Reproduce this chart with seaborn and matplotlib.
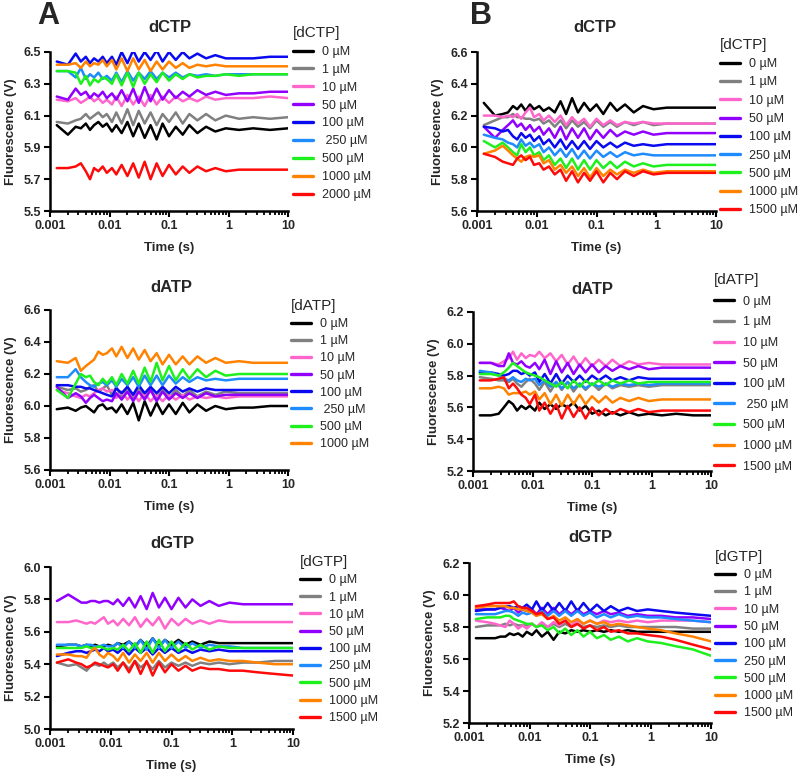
import numpy as np
import pandas as pd
import seaborn as sns
import matplotlib.pyplot as plt
from matplotlib.lines import Line2D
from matplotlib.ticker import FixedLocator, FixedFormatter, LogLocator, NullFormatter

sns.set_theme(style='ticks')
plt.rcParams['font.family'] = ['Liberation Sans', 'DejaVu Sans']

W, H = 800, 773

# sample times (s), shared by every trace
time_s = [0.0013, 0.002, 0.0027, 0.0033, 0.004, 0.0047, 0.0055, 0.0065, 0.0077, 0.009,
          0.011, 0.013, 0.016, 0.02, 0.025, 0.031, 0.039, 0.049, 0.062, 0.078,
          0.1, 0.13, 0.17, 0.22, 0.3, 0.42, 0.6, 0.9,
          1.5, 2.6, 5, 10]

# colours, lowest to highest concentration
conc_colors = ['#000000', '#808080', '#FF66CC', '#9100FF', '#0A0AF0',
               '#1E8CFF', '#1EF01E', '#FF8200', '#FF0A0A']

# ---- A: dCTP ----
a_dctp_labels = ['0 µM', '1 µM', '10 µM', '50 µM', '100 µM', ' 250 µM', '500 µM', '1000 µM', '2000 µM']
a_dctp = [
    [6.04, 5.98, 6.03, 6.02, 6.05, 6.01, 6.04, 6.06, 6.03, 6.05,
     6.00, 6.04, 5.99, 6.06, 5.97, 6.05, 5.96, 6.04, 5.95, 6.05, 5.97, 6.03, 5.98, 6.04, 5.99, 6.03, 6.00, 6.02,
     6.01, 6.02, 6.01, 6.02],
    [6.06, 6.05, 6.07, 6.08, 6.11, 6.08, 6.10, 6.12, 6.09, 6.11,
     6.06, 6.12, 6.05, 6.14, 6.04, 6.13, 6.05, 6.12, 6.04, 6.11, 6.06, 6.12, 6.05, 6.11, 6.07, 6.11, 6.07, 6.10,
     6.08, 6.09, 6.08, 6.09],
    [6.20, 6.19, 6.21, 6.18, 6.20, 6.22, 6.19, 6.21, 6.18, 6.20,
     6.17, 6.22, 6.16, 6.23, 6.17, 6.22, 6.16, 6.23, 6.17, 6.22, 6.18, 6.22, 6.19, 6.21, 6.19, 6.22, 6.20, 6.21,
     6.21, 6.21, 6.22, 6.21],
    [6.22, 6.20, 6.27, 6.23, 6.25, 6.21, 6.24, 6.22, 6.25, 6.21,
     6.24, 6.20, 6.26, 6.19, 6.27, 6.18, 6.28, 6.19, 6.27, 6.20, 6.26, 6.21, 6.25, 6.22, 6.26, 6.23, 6.25, 6.23,
     6.24, 6.24, 6.25, 6.25],
    [6.44, 6.42, 6.49, 6.44, 6.47, 6.43, 6.46, 6.44, 6.47, 6.43,
     6.47, 6.42, 6.50, 6.43, 6.51, 6.44, 6.50, 6.45, 6.51, 6.44, 6.50, 6.45, 6.50, 6.46, 6.49, 6.46, 6.48, 6.46,
     6.46, 6.46, 6.47, 6.47],
    [6.38, 6.38, 6.34, 6.40, 6.33, 6.36, 6.34, 6.37, 6.33, 6.35,
     6.32, 6.37, 6.31, 6.38, 6.32, 6.37, 6.33, 6.38, 6.33, 6.37, 6.34, 6.37, 6.34, 6.36, 6.35, 6.36, 6.35, 6.36,
     6.36, 6.36, 6.36, 6.36],
    [6.38, 6.38, 6.37, 6.30, 6.35, 6.29, 6.33, 6.31, 6.34, 6.33,
     6.30, 6.36, 6.29, 6.37, 6.28, 6.37, 6.30, 6.36, 6.31, 6.37, 6.32, 6.36, 6.33, 6.36, 6.34, 6.35, 6.35, 6.36,
     6.35, 6.36, 6.36, 6.36],
    [6.42, 6.42, 6.43, 6.40, 6.44, 6.41, 6.43, 6.42, 6.45, 6.41,
     6.45, 6.39, 6.46, 6.38, 6.46, 6.39, 6.45, 6.38, 6.44, 6.39, 6.44, 6.40, 6.43, 6.40, 6.42, 6.41, 6.42, 6.41,
     6.41, 6.41, 6.41, 6.41],
    [5.77, 5.77, 5.78, 5.80, 5.75, 5.70, 5.77, 5.75, 5.78, 5.74,
     5.77, 5.73, 5.79, 5.72, 5.80, 5.71, 5.81, 5.70, 5.80, 5.72, 5.79, 5.73, 5.78, 5.74, 5.78, 5.75, 5.77, 5.75,
     5.76, 5.76, 5.76, 5.76],
]

# ---- B: dCTP ----
b_dctp_labels = ['0 µM', '1 µM', '10 µM', '50 µM', '100 µM', '250 µM', '500 µM', '1000 µM', '1500 µM']
b_dctp = [
    [6.28, 6.20, 6.21, 6.22, 6.26, 6.24, 6.27, 6.23, 6.27, 6.24,
     6.26, 6.23, 6.25, 6.22, 6.29, 6.21, 6.31, 6.22, 6.28, 6.23, 6.27, 6.21, 6.28, 6.23, 6.27, 6.22, 6.26, 6.24,
     6.25, 6.25, 6.25, 6.25],
    [6.14, 6.17, 6.19, 6.19, 6.21, 6.19, 6.19, 6.18, 6.18, 6.17,
     6.18, 6.15, 6.17, 6.13, 6.17, 6.12, 6.17, 6.13, 6.16, 6.12, 6.17, 6.13, 6.16, 6.13, 6.16, 6.14, 6.16, 6.14,
     6.15, 6.15, 6.15, 6.15],
    [6.20, 6.20, 6.19, 6.20, 6.19, 6.21, 6.18, 6.22, 6.25, 6.19,
     6.21, 6.17, 6.20, 6.16, 6.20, 6.14, 6.19, 6.15, 6.18, 6.13, 6.18, 6.14, 6.17, 6.14, 6.16, 6.15, 6.16, 6.15,
     6.15, 6.15, 6.15, 6.15],
    [6.13, 6.06, 6.11, 6.14, 6.17, 6.13, 6.15, 6.11, 6.14, 6.10,
     6.13, 6.08, 6.12, 6.06, 6.13, 6.05, 6.12, 6.06, 6.12, 6.05, 6.11, 6.06, 6.11, 6.07, 6.10, 6.08, 6.10, 6.08,
     6.09, 6.09, 6.09, 6.09],
    [6.13, 6.12, 6.10, 6.11, 6.07, 6.05, 6.09, 6.06, 6.08, 6.04,
     6.07, 6.02, 6.05, 6.00, 6.05, 5.99, 6.04, 5.99, 6.04, 5.99, 6.04, 6.00, 6.03, 6.00, 6.03, 6.01, 6.02, 6.01,
     6.02, 6.02, 6.02, 6.02],
    [6.08, 6.06, 6.05, 6.03, 6.02, 6.00, 6.05, 6.01, 6.03, 6.00,
     6.02, 5.97, 6.00, 5.95, 5.99, 5.94, 5.99, 5.93, 5.98, 5.93, 5.98, 5.94, 5.97, 5.94, 5.97, 5.95, 5.96, 5.95,
     5.95, 5.95, 5.95, 5.95],
    [6.04, 6.00, 6.03, 6.00, 5.97, 5.95, 6.02, 5.97, 6.00, 5.95,
     5.97, 5.92, 5.95, 5.89, 5.93, 5.87, 5.93, 5.86, 5.92, 5.86, 5.92, 5.87, 5.91, 5.87, 5.91, 5.88, 5.90, 5.88,
     5.89, 5.89, 5.89, 5.89],
    [5.96, 5.98, 6.01, 5.98, 5.95, 5.93, 5.91, 5.94, 5.95, 5.94,
     5.95, 5.90, 5.92, 5.86, 5.89, 5.84, 5.88, 5.82, 5.87, 5.81, 5.87, 5.82, 5.86, 5.83, 5.86, 5.84, 5.86, 5.84,
     5.85, 5.85, 5.85, 5.85],
    [5.96, 5.94, 5.91, 5.90, 5.89, 5.93, 5.95, 5.92, 5.94, 5.89,
     5.90, 5.86, 5.88, 5.83, 5.86, 5.79, 5.85, 5.78, 5.84, 5.79, 5.85, 5.78, 5.84, 5.80, 5.85, 5.82, 5.85, 5.83,
     5.84, 5.84, 5.84, 5.84],
]

# ---- A: dATP ----
a_datp_labels = ['0 µM', '1 µM', '10 µM', '50 µM', '100 µM', ' 250 µM', '500 µM', '1000 µM']
a_datp = [
    [5.98, 5.99, 5.97, 5.99, 6.00, 5.98, 5.96, 6.00, 6.01, 5.98,
     5.99, 5.96, 6.01, 5.95, 6.02, 5.91, 6.03, 5.94, 6.02, 5.95, 6.01, 5.95, 6.02, 5.96, 6.01, 5.97, 6.00, 5.98,
     5.99, 5.99, 6.00, 6.00],
    [6.12, 6.10, 6.11, 6.09, 6.10, 6.12, 6.13, 6.09, 6.11, 6.13,
     6.07, 6.12, 6.05, 6.12, 6.04, 6.12, 6.05, 6.11, 6.04, 6.11, 6.05, 6.10, 6.06, 6.10, 6.06, 6.09, 6.07, 6.09,
     6.08, 6.08, 6.08, 6.08],
    [6.10, 6.08, 6.06, 6.05, 6.07, 6.06, 6.08, 6.10, 6.11, 6.09,
     6.10, 6.05, 6.09, 6.04, 6.08, 6.03, 6.08, 6.03, 6.07, 6.03, 6.07, 6.04, 6.07, 6.04, 6.06, 6.05, 6.06, 6.05,
     6.06, 6.06, 6.06, 6.06],
    [6.12, 6.05, 6.08, 6.06, 6.02, 6.05, 6.07, 6.05, 6.03, 6.04,
     6.03, 6.08, 6.04, 6.09, 6.03, 6.09, 6.04, 6.10, 6.03, 6.09, 6.04, 6.08, 6.05, 6.08, 6.05, 6.08, 6.06, 6.07,
     6.07, 6.07, 6.07, 6.07],
    [6.13, 6.13, 6.12, 6.12, 6.11, 6.11, 6.10, 6.09, 6.08, 6.07,
     6.06, 6.11, 6.08, 6.12, 6.07, 6.13, 6.08, 6.12, 6.08, 6.12, 6.08, 6.12, 6.09, 6.11, 6.09, 6.11, 6.10, 6.10,
     6.10, 6.10, 6.10, 6.10],
    [6.18, 6.18, 6.23, 6.18, 6.15, 6.13, 6.12, 6.14, 6.15, 6.13,
     6.16, 6.12, 6.17, 6.13, 6.18, 6.12, 6.19, 6.13, 6.19, 6.13, 6.19, 6.14, 6.18, 6.15, 6.18, 6.16, 6.17, 6.16,
     6.17, 6.17, 6.17, 6.17],
    [6.10, 6.05, 6.14, 6.20, 6.18, 6.19, 6.15, 6.13, 6.17, 6.14,
     6.18, 6.13, 6.20, 6.14, 6.22, 6.14, 6.24, 6.15, 6.27, 6.16, 6.25, 6.16, 6.23, 6.17, 6.23, 6.18, 6.22, 6.19,
     6.20, 6.20, 6.20, 6.20],
    [6.28, 6.27, 6.30, 6.22, 6.25, 6.27, 6.29, 6.34, 6.32, 6.33,
     6.36, 6.31, 6.37, 6.30, 6.36, 6.29, 6.35, 6.28, 6.33, 6.26, 6.32, 6.26, 6.31, 6.26, 6.31, 6.27, 6.30, 6.27,
     6.28, 6.27, 6.27, 6.27],
]

# ---- B: dATP ----
b_datp_labels = ['0 µM', '1 µM', '10 µM', '50 µM', '100 µM', ' 250 µM', '500 µM', '1000 µM', '1500 µM']
b_datp = [
    [5.55, 5.55, 5.56, 5.60, 5.64, 5.62, 5.58, 5.61, 5.59, 5.61,
     5.58, 5.63, 5.59, 5.62, 5.59, 5.62, 5.60, 5.63, 5.58, 5.61, 5.56, 5.58, 5.55, 5.57, 5.55, 5.57, 5.55, 5.56,
     5.55, 5.56, 5.55, 5.55],
    [5.79, 5.78, 5.77, 5.77, 5.76, 5.78, 5.75, 5.73, 5.76, 5.78,
     5.75, 5.71, 5.76, 5.70, 5.76, 5.71, 5.76, 5.70, 5.75, 5.71, 5.75, 5.71, 5.75, 5.72, 5.74, 5.73, 5.74, 5.73,
     5.74, 5.74, 5.74, 5.74],
    [5.88, 5.88, 5.87, 5.89, 5.91, 5.95, 5.90, 5.94, 5.91, 5.93,
     5.92, 5.95, 5.91, 5.94, 5.89, 5.93, 5.87, 5.92, 5.86, 5.91, 5.86, 5.90, 5.86, 5.90, 5.86, 5.89, 5.87, 5.88,
     5.87, 5.87, 5.87, 5.87],
    [5.88, 5.88, 5.86, 5.86, 5.94, 5.88, 5.87, 5.89, 5.86, 5.85,
     5.88, 5.84, 5.90, 5.81, 5.89, 5.82, 5.88, 5.81, 5.87, 5.82, 5.87, 5.82, 5.86, 5.83, 5.86, 5.84, 5.86, 5.84,
     5.85, 5.85, 5.85, 5.85],
    [5.82, 5.82, 5.81, 5.80, 5.81, 5.83, 5.83, 5.81, 5.82, 5.80,
     5.82, 5.76, 5.81, 5.75, 5.81, 5.75, 5.80, 5.76, 5.80, 5.76, 5.80, 5.77, 5.80, 5.77, 5.79, 5.77, 5.79, 5.78,
     5.78, 5.78, 5.78, 5.78],
    [5.83, 5.82, 5.80, 5.78, 5.77, 5.79, 5.77, 5.76, 5.78, 5.77,
     5.78, 5.74, 5.77, 5.73, 5.76, 5.72, 5.76, 5.72, 5.75, 5.72, 5.75, 5.73, 5.75, 5.73, 5.75, 5.74, 5.75, 5.74,
     5.75, 5.75, 5.75, 5.75],
    [5.81, 5.81, 5.80, 5.82, 5.85, 5.88, 5.86, 5.84, 5.82, 5.81,
     5.80, 5.79, 5.77, 5.75, 5.73, 5.76, 5.72, 5.77, 5.73, 5.77, 5.74, 5.77, 5.74, 5.77, 5.75, 5.77, 5.75, 5.76,
     5.76, 5.76, 5.76, 5.76],
    [5.72, 5.72, 5.73, 5.72, 5.68, 5.69, 5.69, 5.69, 5.70, 5.68,
     5.70, 5.65, 5.69, 5.62, 5.68, 5.61, 5.68, 5.62, 5.68, 5.62, 5.67, 5.63, 5.67, 5.63, 5.66, 5.64, 5.66, 5.64,
     5.65, 5.65, 5.65, 5.65],
    [5.77, 5.77, 5.78, 5.79, 5.72, 5.75, 5.72, 5.68, 5.66, 5.62,
     5.68, 5.58, 5.63, 5.56, 5.62, 5.53, 5.61, 5.54, 5.60, 5.53, 5.60, 5.55, 5.59, 5.56, 5.59, 5.57, 5.59, 5.57,
     5.58, 5.58, 5.58, 5.58],
]

# ---- A: dGTP ----
a_dgtp_labels = ['0 µM', '1 µM', '10 µM', '50 µM', '100 µM', '250 µM', '500 µM', '1000 µM', '1500 µM']
a_dgtp = [
    [5.51, 5.52, 5.52, 5.51, 5.52, 5.51, 5.52, 5.51, 5.51, 5.52,
     5.51, 5.53, 5.52, 5.54, 5.51, 5.55, 5.51, 5.56, 5.51, 5.55, 5.52, 5.55, 5.52, 5.54, 5.52, 5.54, 5.53, 5.53,
     5.53, 5.53, 5.53, 5.53],
    [5.41, 5.39, 5.40, 5.38, 5.36, 5.39, 5.40, 5.39, 5.41, 5.39,
     5.41, 5.38, 5.41, 5.37, 5.42, 5.38, 5.41, 5.37, 5.42, 5.38, 5.41, 5.39, 5.41, 5.39, 5.41, 5.40, 5.41, 5.40,
     5.41, 5.41, 5.42, 5.42],
    [5.66, 5.66, 5.67, 5.66, 5.65, 5.66, 5.65, 5.67, 5.69, 5.65,
     5.67, 5.64, 5.68, 5.64, 5.69, 5.63, 5.68, 5.64, 5.69, 5.62, 5.68, 5.64, 5.68, 5.65, 5.67, 5.65, 5.67, 5.66,
     5.66, 5.66, 5.66, 5.66],
    [5.79, 5.83, 5.80, 5.78, 5.78, 5.79, 5.79, 5.78, 5.79, 5.79,
     5.77, 5.80, 5.76, 5.81, 5.75, 5.82, 5.74, 5.84, 5.75, 5.81, 5.74, 5.81, 5.75, 5.80, 5.76, 5.79, 5.76, 5.78,
     5.77, 5.77, 5.77, 5.77],
    [5.45, 5.47, 5.48, 5.48, 5.47, 5.48, 5.49, 5.48, 5.50, 5.48,
     5.49, 5.47, 5.50, 5.46, 5.50, 5.47, 5.50, 5.46, 5.50, 5.47, 5.50, 5.47, 5.49, 5.47, 5.49, 5.48, 5.49, 5.48,
     5.48, 5.48, 5.48, 5.48],
    [5.52, 5.52, 5.52, 5.51, 5.52, 5.52, 5.51, 5.51, 5.52, 5.51,
     5.51, 5.53, 5.50, 5.54, 5.50, 5.55, 5.49, 5.56, 5.50, 5.55, 5.50, 5.54, 5.50, 5.53, 5.50, 5.52, 5.51, 5.51,
     5.50, 5.50, 5.50, 5.50],
    [5.50, 5.50, 5.50, 5.50, 5.51, 5.50, 5.50, 5.51, 5.50, 5.49,
     5.50, 5.49, 5.52, 5.48, 5.53, 5.47, 5.54, 5.47, 5.55, 5.48, 5.54, 5.48, 5.53, 5.49, 5.52, 5.49, 5.51, 5.50,
     5.50, 5.50, 5.50, 5.50],
    [5.46, 5.46, 5.45, 5.45, 5.44, 5.48, 5.50, 5.46, 5.44, 5.47,
     5.45, 5.42, 5.47, 5.41, 5.46, 5.42, 5.47, 5.41, 5.47, 5.42, 5.46, 5.42, 5.45, 5.42, 5.44, 5.42, 5.43, 5.42,
     5.42, 5.41, 5.40, 5.40],
    [5.41, 5.43, 5.41, 5.40, 5.38, 5.39, 5.41, 5.40, 5.39, 5.38,
     5.40, 5.36, 5.41, 5.35, 5.42, 5.34, 5.42, 5.33, 5.41, 5.35, 5.40, 5.36, 5.39, 5.36, 5.38, 5.37, 5.37, 5.36,
     5.36, 5.35, 5.34, 5.33],
]

# ---- B: dGTP ----
b_dgtp_labels = ['0 µM', '1 µM', '10 µM', '50 µM', '100 µM', '250 µM', '500 µM', '1000 µM', '1500 µM']
b_dgtp = [
    [5.73, 5.73, 5.73, 5.74, 5.74, 5.76, 5.75, 5.76, 5.74, 5.77,
     5.75, 5.78, 5.74, 5.77, 5.72, 5.77, 5.76, 5.78, 5.77, 5.78, 5.77, 5.78, 5.77, 5.78, 5.77, 5.78, 5.77, 5.77,
     5.77, 5.77, 5.77, 5.77],
    [5.80, 5.81, 5.81, 5.81, 5.82, 5.81, 5.82, 5.81, 5.81, 5.81,
     5.82, 5.80, 5.82, 5.80, 5.82, 5.80, 5.82, 5.80, 5.82, 5.80, 5.81, 5.80, 5.81, 5.80, 5.81, 5.80, 5.80, 5.80,
     5.80, 5.80, 5.79, 5.79],
    [5.84, 5.83, 5.82, 5.81, 5.80, 5.84, 5.82, 5.79, 5.81, 5.79,
     5.82, 5.80, 5.83, 5.80, 5.83, 5.81, 5.84, 5.81, 5.84, 5.82, 5.84, 5.82, 5.84, 5.83, 5.84, 5.83, 5.84, 5.83,
     5.84, 5.84, 5.84, 5.83],
    [5.91, 5.91, 5.91, 5.92, 5.91, 5.90, 5.92, 5.89, 5.91, 5.90,
     5.91, 5.88, 5.92, 5.88, 5.92, 5.88, 5.91, 5.88, 5.91, 5.88, 5.90, 5.88, 5.90, 5.88, 5.89, 5.87, 5.88, 5.87,
     5.87, 5.86, 5.86, 5.85],
    [5.90, 5.91, 5.91, 5.92, 5.93, 5.93, 5.92, 5.93, 5.92, 5.94,
     5.91, 5.96, 5.90, 5.95, 5.90, 5.95, 5.90, 5.96, 5.90, 5.95, 5.90, 5.94, 5.90, 5.93, 5.90, 5.92, 5.90, 5.91,
     5.90, 5.89, 5.88, 5.87],
    [5.88, 5.88, 5.88, 5.89, 5.90, 5.90, 5.89, 5.87, 5.89, 5.88,
     5.89, 5.87, 5.90, 5.87, 5.90, 5.87, 5.90, 5.87, 5.90, 5.87, 5.89, 5.86, 5.88, 5.86, 5.88, 5.86, 5.87, 5.86,
     5.86, 5.85, 5.84, 5.83],
    [5.85, 5.86, 5.86, 5.86, 5.87, 5.87, 5.85, 5.84, 5.83, 5.82,
     5.82, 5.80, 5.81, 5.78, 5.80, 5.76, 5.79, 5.75, 5.78, 5.74, 5.77, 5.73, 5.75, 5.72, 5.74, 5.71, 5.73, 5.71,
     5.70, 5.68, 5.66, 5.62],
    [5.92, 5.93, 5.93, 5.93, 5.93, 5.92, 5.92, 5.91, 5.91, 5.90,
     5.89, 5.87, 5.88, 5.85, 5.87, 5.84, 5.86, 5.83, 5.85, 5.82, 5.84, 5.82, 5.83, 5.81, 5.82, 5.81, 5.80, 5.79,
     5.78, 5.76, 5.74, 5.71],
    [5.93, 5.94, 5.95, 5.95, 5.95, 5.95, 5.96, 5.93, 5.92, 5.92,
     5.90, 5.88, 5.89, 5.85, 5.86, 5.82, 5.84, 5.80, 5.82, 5.79, 5.81, 5.78, 5.80, 5.77, 5.78, 5.76, 5.76, 5.75,
     5.74, 5.72, 5.69, 5.66],
]


def fx(x):
    return x / W


def fy(y):
    return 1 - y / H


def draw_panel(fig, box, traces, labels, name, yticks, title_xy, legend_xy, spacing):
    left, top, right, bottom = box
    ax = fig.add_axes([fx(left), fy(bottom), (right - left) / W, (bottom - top) / H])

    rows = []
    for lab, vals in zip(labels, traces):
        for t, v in zip(time_s, vals):
            rows.append((t, v, lab))
    df = pd.DataFrame(rows, columns=['Time', 'Fluorescence', 'conc'])
    pal = conc_colors[:len(labels)]
    sns.lineplot(data=df, x='Time', y='Fluorescence', hue='conc', hue_order=labels,
                 palette=pal, estimator=None, sort=False, lw=1.8, legend=False, ax=ax)

    ax.set_xscale('log')
    ax.set_xlim(0.001, 10)
    ax.set_ylim(yticks[0], yticks[-1])
    ax.xaxis.set_major_locator(FixedLocator([0.001, 0.01, 0.1, 1, 10]))
    ax.xaxis.set_major_formatter(FixedFormatter(['0.001', '0.01', '0.1', '1', '10']))
    ax.xaxis.set_minor_locator(LogLocator(base=10, subs=np.arange(2, 10)))
    ax.xaxis.set_minor_formatter(NullFormatter())
    ax.yaxis.set_major_locator(FixedLocator(yticks))
    ax.set_yticklabels([f'{v:.1f}' for v in yticks])
    ax.set_xlabel('')
    ax.set_ylabel('')

    for s in ['top', 'right']:
        ax.spines[s].set_visible(False)
    for s in ['left', 'bottom']:
        ax.spines[s].set_linewidth(1.8)
        ax.spines[s].set_color('black')
    ax.tick_params(which='major', direction='out', length=4.5, width=1.5, color='black',
                   labelsize=9, pad=2)
    ax.tick_params(which='minor', direction='out', length=2.6, width=1.3, color='black')
    for lab in ax.get_xticklabels() + ax.get_yticklabels():
        lab.set_fontweight('bold')
    ax.grid(False)

    # title, axis labels
    fig.text(fx(title_xy[0]), fy(title_xy[1]), name, ha='center', va='center',
             fontsize=12, fontweight='bold')
    fig.text(fx((left + right) / 2), fy(bottom + 37), 'Time (s)', ha='center', va='center',
             fontsize=9.5, fontweight='bold')
    fig.text(fx(left - 39), fy((top + bottom) / 2), 'Fluorescence (V)', ha='center', va='center',
             rotation=90, fontsize=9.5, fontweight='bold')

    handles = [Line2D([], [], color=c, lw=2.4) for c in pal]
    ax.legend(handles, labels, title=f'[{name}]', loc='upper left',
              bbox_to_anchor=(fx(legend_xy[0]), fy(legend_xy[1])), bbox_transform=fig.transFigure,
              frameon=False, fontsize=9, title_fontsize=11, handlelength=1.6, handletextpad=0.7,
              labelspacing=spacing, borderpad=0, borderaxespad=0, alignment='left')
    return ax


fig = plt.figure(figsize=(W / 100, H / 100), dpi=100)

draw_panel(fig, (50, 52, 288, 211), a_dctp, a_dctp_labels, 'dCTP',
           [5.5, 5.7, 5.9, 6.1, 6.3, 6.5], (170, 27), (293, 26), 0.47)
draw_panel(fig, (477, 52, 716, 211), b_dctp, b_dctp_labels, 'dCTP',
           [5.6, 5.8, 6.0, 6.2, 6.4, 6.6], (595, 27), (720, 38), 0.50)
draw_panel(fig, (50, 310, 288, 470), a_datp, a_datp_labels, 'dATP',
           [5.6, 5.8, 6.0, 6.2, 6.4, 6.6], (171, 287), (291, 299), 0.41)
draw_panel(fig, (473, 312, 711, 471), b_datp, b_datp_labels, 'dATP',
           [5.2, 5.4, 5.6, 5.8, 6.0, 6.2], (592, 289), (714, 273), 0.69)
draw_panel(fig, (50, 567, 293, 729), a_dgtp, a_dgtp_labels, 'dGTP',
           [5.0, 5.2, 5.4, 5.6, 5.8, 6.0], (172, 543), (300, 555), 0.42)
draw_panel(fig, (469, 563, 711, 723), b_dgtp, b_dgtp_labels, 'dGTP',
           [5.2, 5.4, 5.6, 5.8, 6.0, 6.2], (590, 538), (715, 550), 0.42)

fig.text(fx(48), fy(16), 'A', ha='center', va='center', fontsize=22, fontweight='bold')
fig.text(fx(481), fy(16), 'B', ha='center', va='center', fontsize=22, fontweight='bold')

fig.savefig('out.png', dpi=100)
